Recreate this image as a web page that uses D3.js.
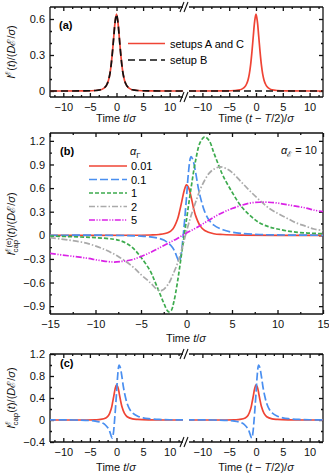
<!DOCTYPE html>
<html>
<head>
<meta charset="utf-8">
<title>Pulse currents</title>
<script src="https://d3js.org/d3.v7.min.js"></script>
<style>
  body { margin: 0; background: #fff; }
  svg { display: block; font-family: "Liberation Sans", Arial, sans-serif; }
  text { white-space: pre; }
</style>
</head>
<body>
<svg id="chart" width="329" height="474"></svg>
<script>
// ---- data ----
// panel (a): single pulse, setups A and C (red) / setup B (black)
const tPulse = [-12.5, -6, -4, -3, -2.5, -2, -1.75, -1.5, -1.25, -1, -0.75, -0.5, -0.25, 0,
                0.25, 0.5, 0.75, 1, 1.25, 1.5, 1.75, 2, 2.5, 3, 4, 6, 12.5];
const iPulse = [0, 0.001, 0.004, 0.01, 0.02, 0.04, 0.06, 0.09, 0.14, 0.22, 0.33, 0.46, 0.58, 0.64,
                0.58, 0.46, 0.33, 0.22, 0.14, 0.09, 0.06, 0.04, 0.02, 0.01, 0.004, 0.001, 0];
const tFlat = [-12.5, 12.5];
const iFlat = [0, 0];

// panel (b): alpha_Gamma series
const alphaLabels = ["0.01", "0.1", "1", "2", "5"];
const t001 = [-15, -4, -3, -2, -1.5, -1, -0.75, -0.5, -0.25, 0, 0.25, 0.5, 0.75, 1, 1.5, 2, 3, 4, 6, 15];
const v001 = [0, 0.004, 0.01, 0.035, 0.08, 0.2, 0.31, 0.44, 0.57, 0.64, 0.6, 0.49, 0.36, 0.25, 0.12, 0.06, 0.02, 0.01, 0.003, 0];
const t01 = [-15, -8, -5, -4, -3, -2.5, -2, -1.5, -1.2, -1, -0.8, -0.6, -0.4, -0.2, 0, 0.2, 0.4, 0.5,
             0.7, 1, 1.3, 1.6, 2, 2.5, 3, 4, 5, 6, 8, 10, 15];
const v01 = [0, 0, -0.01, -0.02, -0.04, -0.06, -0.1, -0.16, -0.23, -0.29, -0.33, -0.25, -0.05, 0.2, 0.48, 0.78, 0.97, 1.0,
             0.96, 0.8, 0.6, 0.45, 0.3, 0.19, 0.13, 0.07, 0.04, 0.025, 0.01, 0.005, 0];
const t1 = [-15, -12, -10, -8, -7, -6, -5, -4, -3.5, -3, -2.5, -2, -1.7, -1.4, -1, -0.5, 0, 0.5, 1, 1.5,
            2, 2.5, 3, 3.5, 4, 5, 6, 7, 8, 9, 10, 12, 15];
const v1 = [-0.01, -0.02, -0.03, -0.05, -0.08, -0.15, -0.28, -0.45, -0.58, -0.72, -0.86, -0.97, -0.96, -0.85, -0.6, -0.2, 0.2, 0.6, 0.95, 1.18,
            1.25, 1.2, 1.05, 0.9, 0.76, 0.55, 0.37, 0.25, 0.16, 0.11, 0.08, 0.04, 0.02];
const t2 = [-15, -13, -11, -9, -7.5, -6, -5, -4, -3.2, -2.7, -2, -1.5, -1, -0.5, 0, 0.5, 1, 1.5, 2, 2.5,
            3, 3.7, 4.5, 5, 6, 7, 8, 9, 10, 11, 12, 13, 14, 15];
const v2 = [-0.03, -0.06, -0.1, -0.18, -0.27, -0.39, -0.5, -0.6, -0.69, -0.7, -0.62, -0.5, -0.36, -0.17, 0.05, 0.25, 0.42, 0.58, 0.7, 0.79,
            0.84, 0.87, 0.84, 0.8, 0.68, 0.56, 0.45, 0.35, 0.28, 0.22, 0.16, 0.12, 0.08, 0.06];
const t5 = [-15, -13, -11, -9.5, -8, -7, -6, -5, -4, -3, -2, -1, 0, 1, 2, 3, 4, 5, 6, 7, 8, 9, 10, 11, 12, 13, 14, 15];
const v5 = [-0.23, -0.26, -0.29, -0.32, -0.34, -0.33, -0.31, -0.27, -0.22, -0.16, -0.1, -0.04, 0.03, 0.09, 0.16, 0.23, 0.29, 0.34,
            0.38, 0.41, 0.42, 0.42, 0.41, 0.39, 0.37, 0.35, 0.32, 0.3];

// ticks
const xTicksAC = [-10, -5, 0, 5, 10];
const xMinorAC = [-11.67, -8.33, -6.67, -3.33, -1.67, 1.67, 3.33, 6.67, 8.33, 11.67];
const yTicksA = [0, 0.3, 0.6];
const yMinorA = [0.1, 0.2, 0.4, 0.5];
const xTicksB = [-15, -10, -5, 0, 5, 10, 15];
const xMinorB = [-12.5, -7.5, -2.5, 2.5, 7.5, 12.5];
const yTicksB = [-0.9, -0.6, -0.3, 0, 0.3, 0.6, 0.9, 1.2];
const yMinorB = [-0.75, -0.45, -0.15, 0.15, 0.45, 0.75, 1.05];
const yTicksC = [-0.4, 0, 0.4, 0.8, 1.2];
const yMinorC = [-0.2, 0.2, 0.6, 1.0];

// ---- styles ----
const RED = "#ef4435", BLUE = "#4a8ff0", GREEN = "#3dab4e", GRAY = "#aaaaaa", MAG = "#da22e6", BLACK = "#111";
const series = [
  {t: t001, v: v001, color: RED,   dash: null},
  {t: t01,  v: v01,  color: BLUE,  dash: "8,3"},
  {t: t1,   v: v1,   color: GREEN, dash: "4,2"},
  {t: t2,   v: v2,   color: GRAY,  dash: "6,2,1.5,2"},
  {t: t5,   v: v5,   color: MAG,   dash: "6,1.5,1.2,1.5,1.2,1.5"}
];
const LW = 1.7, FRAME = 1.3, FS = 11;

const svg = d3.select("#chart");
const fmt = d => (d < 0 ? "\u2212" : "") + String(Math.abs(d));
let clipId = 0;

function zip(t, v) { return t.map((d, i) => [d, v[i]]); }

// rich text: runs laid out left to right; stacked runs share x with the previous run
function rich(parent, runs, size, align) {
  const g = parent.append("g");
  let x = 0, prevStart = 0;
  runs.forEach(r => {
    const fs = r.small ? size * 0.72 : size;
    const start = r.stack ? prevStart : x;
    const t = g.append("text").attr("x", start).attr("y", r.dy || 0)
      .attr("font-size", fs).attr("fill", "#111")
      .attr("font-style", r.it ? "italic" : null).text(r.t);
    const w = t.node().getComputedTextLength();
    if (r.stack) x = Math.max(x, start + w);
    else { prevStart = start; x = start + w; }
  });
  const shift = align === "end" ? -x : align === "start" ? 0 : -x / 2;
  g.attr("transform", `translate(${shift},0)`);
  return g;
}

// one sub-plot: scales, ticks, clipped lines
function subplot(x, y, o) {
  const g = svg.append("g");
  const [x0, x1] = x.range(), [y1, y0] = y.range();
  const id = "clip" + (clipId++);
  svg.append("clipPath").attr("id", id).append("rect")
    .attr("x", x0).attr("y", y0).attr("width", x1 - x0).attr("height", y1 - y0);

  const noDomain = s => s.select(".domain").remove();
  const tickStyle = s => s.selectAll("line").attr("stroke", "#111").attr("stroke-width", FRAME);

  g.append("g").attr("transform", `translate(0,${y1})`)
    .call(d3.axisBottom(x).tickValues(o.xMajor).tickSize(-4).tickPadding(6).tickFormat(fmt))
    .call(noDomain).call(tickStyle)
    .call(s => s.selectAll("text").attr("font-size", FS).attr("fill", "#111").attr("font-family", null));
  g.append("g").attr("transform", `translate(0,${y1})`)
    .call(d3.axisBottom(x).tickValues(o.xMinor).tickSize(-2).tickFormat(""))
    .call(noDomain).call(tickStyle);
  g.append("g").attr("transform", `translate(0,${y0})`)
    .call(d3.axisTop(x).tickValues(o.xMajor).tickSize(-4).tickFormat(""))
    .call(noDomain).call(tickStyle);
  g.append("g").attr("transform", `translate(0,${y0})`)
    .call(d3.axisTop(x).tickValues(o.xMinor).tickSize(-2).tickFormat(""))
    .call(noDomain).call(tickStyle);

  if (o.left) {
    g.append("g").attr("transform", `translate(${x0},0)`)
      .call(d3.axisLeft(y).tickValues(o.yMajor).tickSize(-4).tickPadding(5).tickFormat(fmt))
      .call(noDomain).call(tickStyle)
      .call(s => s.selectAll("text").attr("font-size", FS).attr("fill", "#111").attr("font-family", null));
    g.append("g").attr("transform", `translate(${x0},0)`)
      .call(d3.axisLeft(y).tickValues(o.yMinor).tickSize(-2).tickFormat(""))
      .call(noDomain).call(tickStyle);
    g.append("line").attr("x1", x0).attr("x2", x0).attr("y1", y0).attr("y2", y1)
      .attr("stroke", "#111").attr("stroke-width", FRAME);
  }
  if (o.right) {
    g.append("g").attr("transform", `translate(${x1},0)`)
      .call(d3.axisRight(y).tickValues(o.yMajor).tickSize(-4).tickFormat(""))
      .call(noDomain).call(tickStyle);
    g.append("g").attr("transform", `translate(${x1},0)`)
      .call(d3.axisRight(y).tickValues(o.yMinor).tickSize(-2).tickFormat(""))
      .call(noDomain).call(tickStyle);
    g.append("line").attr("x1", x1).attr("x2", x1).attr("y1", y0).attr("y2", y1)
      .attr("stroke", "#111").attr("stroke-width", FRAME);
  }
  [y0, y1].forEach(yy => g.append("line").attr("x1", x0).attr("x2", x1).attr("y1", yy).attr("y2", yy)
    .attr("stroke", "#111").attr("stroke-width", FRAME));

  const line = d3.line().x(d => x(d[0])).y(d => y(d[1])).curve(d3.curveCatmullRom.alpha(0.5));
  const lg = svg.append("g").attr("clip-path", `url(#${id})`);
  o.lines.forEach(s => {
    lg.append("path").datum(zip(s.t, s.v))
      .attr("d", line).attr("fill", "none")
      .attr("stroke", s.color).attr("stroke-width", LW)
      .attr("stroke-dasharray", s.dash);
  });
}

function breakMarks(xa, xb, yTop, yBot) {
  [yTop, yBot].forEach(yy => {
    [xa - 1, xb - 3].forEach(xx => {
      svg.append("line").attr("x1", xx - 2).attr("y1", yy + 5).attr("x2", xx + 2).attr("y2", yy - 5)
        .attr("stroke", "#111").attr("stroke-width", 1.1);
    });
  });
}

const timeT = [{t: "Time "}, {t: "t", it: true}, {t: "/"}, {t: "\u03c3", it: true}];
const timeShift = [{t: "Time ("}, {t: "t", it: true}, {t: " \u2212 "}, {t: "T", it: true},
                   {t: "/2)/"}, {t: "\u03c3", it: true}];
function title(runs, cx, cy) {
  rich(svg.append("g").attr("transform", `translate(${cx},${cy})`), runs, FS);
}
function ylabel(runs, cx, cy) {
  rich(svg.append("g").attr("transform", `translate(${cx},${cy}) rotate(-90)`), runs, FS);
}

// ---- panel (a) ----
const L = [50, 183], R = [189, 323];
const xaL = d3.scaleLinear([-12.5, 12.5], L), xaR = d3.scaleLinear([-12.5, 12.5], R);
const ya = d3.scaleLinear([-0.05, 0.7], [97, 7]);
const aOpts = {xMajor: xTicksAC, xMinor: xMinorAC, yMajor: yTicksA, yMinor: yMinorA};
subplot(xaL, ya, {...aOpts, left: true, lines: [
  {t: tPulse, v: iPulse, color: RED, dash: null},
  {t: tPulse, v: iPulse, color: BLACK, dash: "7,4"}]});
subplot(xaR, ya, {...aOpts, right: true, lines: [
  {t: tPulse, v: iPulse, color: RED, dash: null},
  {t: tFlat, v: iFlat, color: BLACK, dash: "7,4"}]});
breakMarks(183, 189, 7, 97);
svg.append("text").attr("x", 59).attr("y", 29).attr("font-size", FS).attr("font-weight", "bold").text("(a)");
svg.append("line").attr("x1", 128).attr("x2", 165).attr("y1", 43.5).attr("y2", 43.5).attr("stroke", RED).attr("stroke-width", LW);
svg.append("line").attr("x1", 128).attr("x2", 165).attr("y1", 60).attr("y2", 60).attr("stroke", BLACK).attr("stroke-width", LW).attr("stroke-dasharray", "7,4");
svg.append("text").attr("x", 170).attr("y", 47.5).attr("font-size", FS).text("setups A and C");
svg.append("text").attr("x", 170).attr("y", 64).attr("font-size", FS).text("setup B");
title(timeT, 116, 122);
title(timeShift, 256, 122);
ylabel([{t: "I", it: true}, {t: "\u2130", small: true, dy: -4}, {t: "("}, {t: "t", it: true}, {t: ")/("},
        {t: "D", it: true}, {t: "\u2130"}, {t: "/"}, {t: "\u03c3", it: true}, {t: ")"}], 15, 52);

// ---- panel (b) ----
const xb = d3.scaleLinear([-15, 15], [50, 323]);
const yb = d3.scaleLinear([-1.0, 1.3], [314, 133]);
subplot(xb, yb, {xMajor: xTicksB, xMinor: xMinorB, yMajor: yTicksB, yMinor: yMinorB,
                 left: true, right: true, lines: series});
svg.append("text").attr("x", 60).attr("y", 155).attr("font-size", FS).attr("font-weight", "bold").text("(b)");
rich(svg.append("g").attr("transform", "translate(130,155)"),
  [{t: "\u03b1", it: true}, {t: "\u0393", small: true, dy: 3}], FS, "start");
rich(svg.append("g").attr("transform", "translate(317,154)"),
  [{t: "\u03b1", it: true}, {t: "\u2130", small: true, dy: 3}, {t: " = 10"}], FS, "end");
const legRows = [166, 179.5, 193, 206.5, 220];
series.forEach((s, i) => {
  svg.append("line").attr("x1", 89).attr("x2", 127).attr("y1", legRows[i]).attr("y2", legRows[i])
    .attr("stroke", s.color).attr("stroke-width", LW).attr("stroke-dasharray", s.dash);
  svg.append("text").attr("x", 131).attr("y", legRows[i] + 4).attr("font-size", FS).text(alphaLabels[i]);
});
title(timeT, 186, 342);
ylabel([{t: "I", it: true}, {t: "\u2130(e)", small: true, dy: -4}, {t: "cap", small: true, dy: 3, stack: true},
        {t: "("}, {t: "t", it: true}, {t: ")/("}, {t: "D", it: true}, {t: "\u2130"}, {t: "/"},
        {t: "\u03c3", it: true}, {t: ")"}], 15, 224);

// ---- panel (c) ----
const xcL = d3.scaleLinear([-12.5, 12.5], L), xcR = d3.scaleLinear([-12.5, 12.5], R);
const yc = d3.scaleLinear([-0.4, 1.2], [442, 354]);
const cOpts = {xMajor: xTicksAC, xMinor: xMinorAC, yMajor: yTicksC, yMinor: yMinorC};
const cLines = [series[0], series[1]];
subplot(xcL, yc, {...cOpts, left: true, lines: cLines});
subplot(xcR, yc, {...cOpts, right: true, lines: cLines});
breakMarks(183, 189, 354, 442);
svg.append("text").attr("x", 60).attr("y", 367).attr("font-size", FS).attr("font-weight", "bold").text("(c)");
title(timeT, 116, 471);
title(timeShift, 256, 471);
ylabel([{t: "I", it: true}, {t: "\u2130", small: true, dy: -4}, {t: "cap", small: true, dy: 3, stack: true},
        {t: "("}, {t: "t", it: true}, {t: ")/("}, {t: "D", it: true}, {t: "\u2130"}, {t: "/"},
        {t: "\u03c3", it: true}, {t: ")"}], 15, 398);
</script>
</body>
</html>
